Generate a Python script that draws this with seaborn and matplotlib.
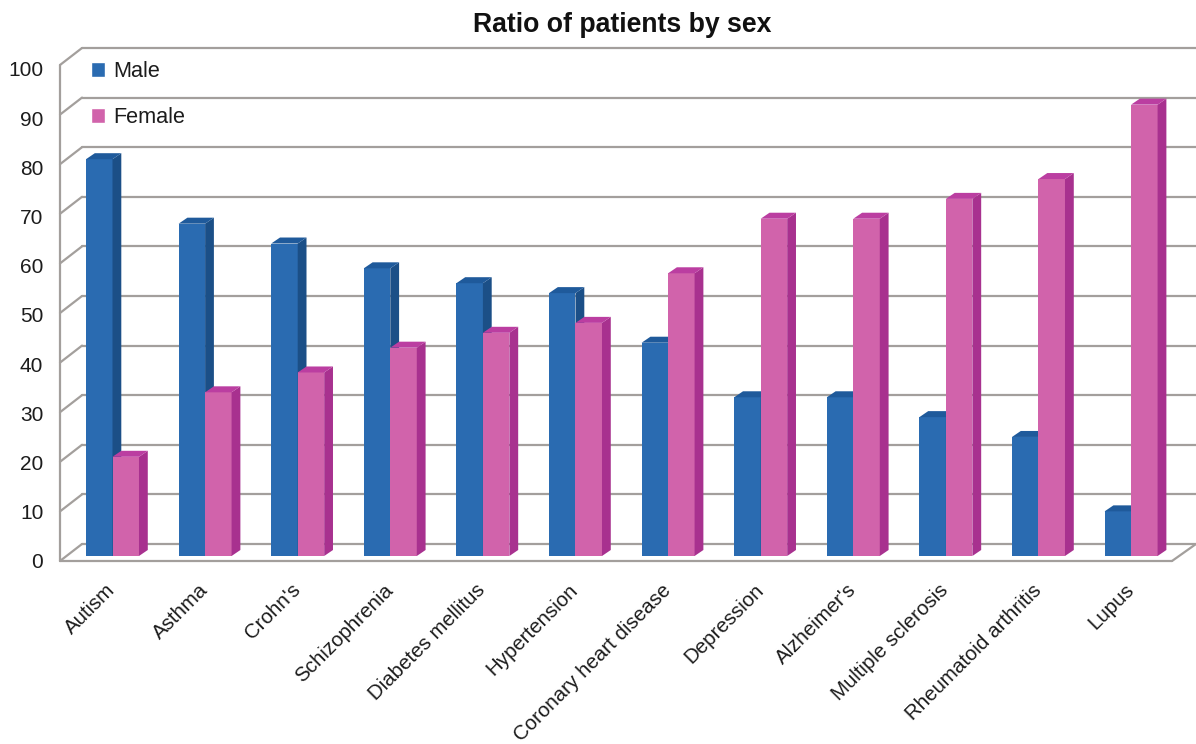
import numpy as np
import pandas as pd
import matplotlib
matplotlib.use("Agg")
import matplotlib.pyplot as plt
from matplotlib.patches import Polygon
from matplotlib.transforms import ScaledTranslation
import seaborn as sns

conditions = ["Autism", "Asthma", "Crohn's", "Schizophrenia", "Diabetes mellitus",
              "Hypertension", "Coronary heart disease", "Depression", "Alzheimer's",
              "Multiple sclerosis", "Rheumatoid arthritis", "Lupus"]
male = [80, 67, 63, 58, 55, 53, 43, 32, 32, 28, 24, 9]
female = [20, 33, 37, 42, 45, 47, 57, 68, 68, 72, 76, 91]
y_ticks = list(range(0, 101, 10))

WIDTH, HEIGHT = 1196, 744
PX_X = 92.6    # pixels per category
PX_Y = 4.96    # pixels per percentage point
FRONT_FACE = {"Male": "#2a6bb1", "Female": "#d163ab"}
SIDE_FACE = {"Male": "#1b4f87", "Female": "#a8318f"}
TOP_FACE = {"Male": "#1f5a9b", "Female": "#bb3ea1"}
GRID = "#a39f9c"

sns.set_theme(style="white")
plt.rcParams["font.family"] = ["Liberation Sans", "DejaVu Sans"]
plt.rcParams["text.color"] = "#1c1c1c"

fig = plt.figure(figsize=(WIDTH / 100, HEIGHT / 100), dpi=100)
ax = fig.add_axes([60 / WIDTH, (HEIGHT - 561) / HEIGHT, 1136 / WIDTH, 513 / HEIGHT])

table = pd.DataFrame({
    "condition": conditions * 2,
    "sex": ["Male"] * len(male) + ["Female"] * len(female),
    "ratio": male + female,
})
sns.barplot(data=table, x="condition", y="ratio", hue="sex", hue_order=["Male", "Female"],
            palette=FRONT_FACE, width=0.572, gap=0, saturation=1, ax=ax, zorder=2)

x0, x1 = (60 - 112.5) / PX_X, (1196 - 112.5) / PX_X
y0, y1 = -5 / PX_Y, 508 / PX_Y
ax.set_xlim(x0, x1)
ax.set_ylim(y0, y1)
for side in ax.spines.values():
    side.set_visible(False)

# Extruded faces of each bar
bar_dx, bar_dy = 8.8 / PX_X, 6 / PX_Y
for order, (sex, container) in enumerate(zip(["Male", "Female"], ax.containers)):
    for bar in container:
        left, width, height = bar.get_x(), bar.get_width(), bar.get_height()
        right = left + width
        bar.set_zorder(2 + order)
        bar.set_linewidth(0)
        ax.add_patch(Polygon([(right, 0), (right + bar_dx, bar_dy),
                              (right + bar_dx, height + bar_dy), (right, height)],
                             closed=True, fc=SIDE_FACE[sex], ec="none", zorder=2 + order))
        ax.add_patch(Polygon([(left, height), (left + bar_dx, height + bar_dy),
                              (right + bar_dx, height + bar_dy), (right, height)],
                             closed=True, fc=TOP_FACE[sex], ec="none", zorder=2 + order))

# Wall and floor of the box behind the bars
wall_dx, wall_dy = 22 / PX_X, 17 / PX_Y
front_shift = -5 / PX_Y
line = dict(color=GRID, lw=1.6, zorder=1, clip_on=False, solid_capstyle="round")
for v in y_ticks:
    fy = v + front_shift
    ax.plot([x0, x0 + wall_dx], [fy, fy + wall_dy], **line)
    ax.plot([x0 + wall_dx, x1], [fy + wall_dy, fy + wall_dy], **line)
ax.plot([x0, x0], [front_shift, 100 + front_shift], **line)
floor_end = (1172 - 112.5) / PX_X
ax.plot([x0, floor_end], [front_shift, front_shift], **line)
ax.plot([floor_end, x1], [front_shift, front_shift + wall_dy], **line)

# Value labels sit on a slightly tighter scale than the bars
ax.set_yticks(np.array(y_ticks) * 0.992 - 1.0, labels=y_ticks)
ax.tick_params(axis="y", length=0, pad=12, labelsize=15, labelcolor="#1c1c1c")
ax.tick_params(axis="x", length=0, pad=14, labelsize=14.8, labelcolor="#1c1c1c")
ax.set_xlabel("")
ax.set_ylabel("")
shift_left = ScaledTranslation(-7 / 100, 0, fig.dpi_scale_trans)
for label in ax.get_xticklabels():
    label.set_rotation(45)
    label.set_ha("right")
    label.set_rotation_mode("anchor")
    label.set_transform(label.get_transform() + shift_left)

sns.move_legend(ax, "upper left", bbox_to_anchor=(31 / 1136, 1 - 13 / 513), title=None,
                frameon=False, fontsize=15.6, handlelength=0.65, handleheight=0.72,
                handletextpad=0.38, labelspacing=1.15, borderpad=0, borderaxespad=0)

fig.text(622.5 / WIDTH, 1 - 25 / HEIGHT, "Ratio of patients by sex", ha="center", va="center",
         fontsize=19.2, fontweight="bold", color="#111111")

fig.savefig("out.png", dpi=100, facecolor="white")
